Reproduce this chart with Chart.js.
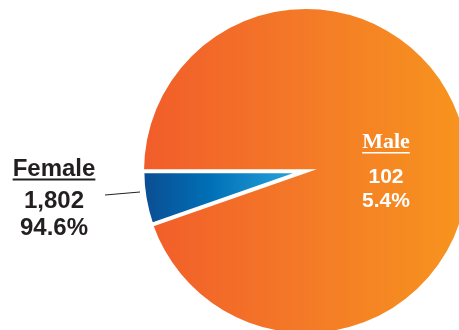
<!DOCTYPE html>
<html>
<head>
<meta charset="utf-8">
<script src="https://cdn.jsdelivr.net/npm/chart.js@4"></script>
<style>
  html, body { margin: 0; padding: 0; background: #fff; overflow: hidden; }
  #wrap { position: absolute; left: 0; top: 0; width: 480px; height: 340px; }
</style>
</head>
<body>
<div id="wrap"><canvas id="genderChart"></canvas></div>
<script>
// Headcount by gender
const categories = ['Female', 'Male'];
const counts = [1802, 102];

const total = counts.reduce((a, b) => a + b, 0);
const percents = counts.map((v) => (v / total * 100).toFixed(1) + '%');
const countLabels = counts.map((v) => v.toLocaleString('en-US'));

const PIE_RADIUS = 162;

function pieCenter(chart) {
  const meta = chart.getDatasetMeta(0);
  return { x: meta.data[0].x, y: meta.data[0].y };
}

function sliceFill(context) {
  const chart = context.chart;
  const area = chart.chartArea;
  if (!area) return context.dataIndex === 0 ? '#f47b25' : '#0072b8';
  const cx = (area.left + area.right) / 2;
  const g = chart.ctx.createLinearGradient(cx - PIE_RADIUS, 0, context.dataIndex === 0 ? cx + PIE_RADIUS : cx - 12, 0);
  if (context.dataIndex === 0) {
    g.addColorStop(0, '#f15d2a');
    g.addColorStop(0.5, '#f47a27');
    g.addColorStop(1, '#f7951e');
  } else {
    g.addColorStop(0, '#0b4d92');
    g.addColorStop(0.45, '#0070b6');
    g.addColorStop(1, '#26a2da');
  }
  return g;
}

// labels: outside one for the first category, inside one for the second
const sliceLabels = {
  id: 'sliceLabels',
  afterDatasetsDraw(chart) {
    const ctx = chart.ctx;
    const c = pieCenter(chart);
    ctx.save();
    ctx.textAlign = 'center';
    ctx.textBaseline = 'alphabetic';

    // first category, left of the pie
    const lx = c.x - 252;
    ctx.fillStyle = '#231f20';
    ctx.font = 'bold 24px "Liberation Sans", Arial, sans-serif';
    ctx.fillText(categories[0], lx, c.y + 5);
    let w = ctx.measureText(categories[0]).width;
    ctx.fillRect(lx - w / 2, c.y + 7.5, w, 2);
    ctx.fillText(countLabels[0], lx, c.y + 37);
    ctx.fillText(percents[0], lx, c.y + 64);

    ctx.strokeStyle = '#231f20';
    ctx.lineWidth = 1;
    ctx.beginPath();
    ctx.moveTo(c.x - 201, c.y + 24);
    ctx.lineTo(c.x - 166, c.y + 21);
    ctx.stroke();

    // second category, inside the large slice
    const rx = c.x + 80;
    ctx.fillStyle = '#ffffff';
    ctx.font = 'bold 22px "Liberation Serif", "Times New Roman", serif';
    ctx.fillText(categories[1], rx, c.y - 23);
    w = ctx.measureText(categories[1]).width;
    ctx.fillRect(rx - w / 2, c.y - 19, w, 1.5);
    ctx.font = 'bold 21px "Liberation Sans", Arial, sans-serif';
    ctx.fillText(countLabels[1], rx, c.y + 12);
    ctx.fillText(percents[1], rx, c.y + 36);
    ctx.restore();
  }
};

new Chart(document.getElementById('genderChart'), {
  type: 'pie',
  data: {
    labels: categories,
    datasets: [
      {
        data: counts,
        backgroundColor: sliceFill,
        borderColor: '#ffffff',
        borderWidth: [0, 4],
        borderJoinStyle: 'miter',
        offset: [0, 4],
      },
    ],
  },
  options: {
    responsive: true,
    maintainAspectRatio: false,
    animation: false,
    rotation: 270,
    radius: PIE_RADIUS,
    layout: {
      padding: { left: 132, right: 0, top: 2, bottom: 0 },
    },
    plugins: {
      legend: { display: false },
      tooltip: { enabled: false },
    },
  },
  plugins: [sliceLabels],
});
</script>
</body>
</html>
